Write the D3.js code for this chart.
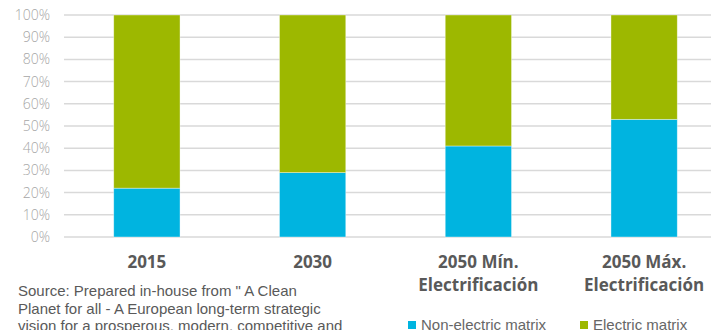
<!DOCTYPE html>
<html><head><meta charset="utf-8">
<script src="https://cdn.jsdelivr.net/npm/d3@7"></script>
<style>body{margin:0;background:#fff}svg{display:block}</style>
</head><body>
<svg id="c" width="711" height="330"></svg>
<script>
const categories = [["2015"], ["2030"], ["2050 Mín.", "Electrificación"], ["2050 Máx.", "Electrificación"]];
const nonElectric = [22, 29, 41, 53];
const electric = [78, 71, 59, 47];
const seriesNames = ["Non-electric matrix", "Electric matrix"];
const seriesColors = ["#00B4E0", "#9DB800"];
const tickValues = [0, 10, 20, 30, 40, 50, 60, 70, 80, 90, 100];
const sourceLines = ["Source: Prepared in-house from \" A Clean", "Planet for all - A European long-term strategic", "vision for a prosperous, modern, competitive and"];

const svg = d3.select("#c");
const keys = categories.map(c => c.join(" "));
const x = d3.scaleBand().domain(keys).range([64, 727]).paddingInner(0.6).paddingOuter(0.3);
const y = d3.scaleLinear().domain([0, 100]).range([237, 15]);

// gridlines
svg.append("g").selectAll("line").data(tickValues).join("line")
  .attr("x1", 64).attr("x2", 711)
  .attr("y1", d => y(d)).attr("y2", d => y(d))
  .attr("stroke", "#d9d9d9").attr("stroke-width", 1.5);

// y tick labels
svg.append("g").selectAll("text").data(tickValues).join("text")
  .attr("x", 50).attr("y", d => y(d)).attr("dy", "0.35em")
  .attr("text-anchor", "end")
  .attr("font-family", "'Open Sans', sans-serif").attr("font-size", 14)
  .attr("font-weight", 300)
  .attr("fill", "#a6a6a6")
  .text(d => d + "%");

const data = keys.map((k, i) => ({key: k, v: [nonElectric[i], electric[i]]}));
const stack = data.map(d => {
  let acc = 0;
  return d.v.map((v, j) => { const s = {key: d.key, y0: acc, y1: acc + v, j}; acc += v; return s; });
}).flat();

svg.append("g").selectAll("rect").data(stack).join("rect")
  .attr("x", d => x(d.key)).attr("width", x.bandwidth())
  .attr("y", d => y(d.y1)).attr("height", d => y(d.y0) - y(d.y1))
  .attr("fill", d => seriesColors[d.j])
  .attr("stroke", "#ffffff").attr("stroke-opacity", 0.5).attr("stroke-width", 0.75);

// category labels
const cl = svg.append("g").selectAll("text").data(categories).join("text")
  .attr("text-anchor", "middle")
  .attr("font-family", "'Open Sans', sans-serif").attr("font-size", 17)
  .attr("font-weight", 700).attr("fill", "#595959");
cl.each(function(d, i) {
  const t = d3.select(this);
  d.forEach((line, k) => {
    t.append("tspan").attr("x", x(keys[i]) + x.bandwidth() / 2).attr("y", 268 + k * 23).text(line);
  });
});

// source text
svg.append("g").selectAll("text").data(sourceLines).join("text")
  .attr("x", 18).attr("y", (d, i) => 296 + i * 17.5)
  .attr("font-family", "'Liberation Sans', Arial, sans-serif").attr("font-size", 15)
  .attr("fill", "#595959")
  .text(d => d);

// legend
const legX = [408, 580];
const lg = svg.append("g").selectAll("g").data(seriesNames).join("g")
  .attr("transform", (d, i) => `translate(${legX[i]},0)`);
lg.append("rect").attr("x", 0).attr("y", 321).attr("width", 8).attr("height", 8)
  .attr("fill", (d, i) => seriesColors[i]);
lg.append("text").attr("x", 13).attr("y", 329.5)
  .attr("font-family", "'Liberation Sans', Arial, sans-serif").attr("font-size", 15)
  .attr("fill", "#666666").text(d => d);
</script>
</body></html>
